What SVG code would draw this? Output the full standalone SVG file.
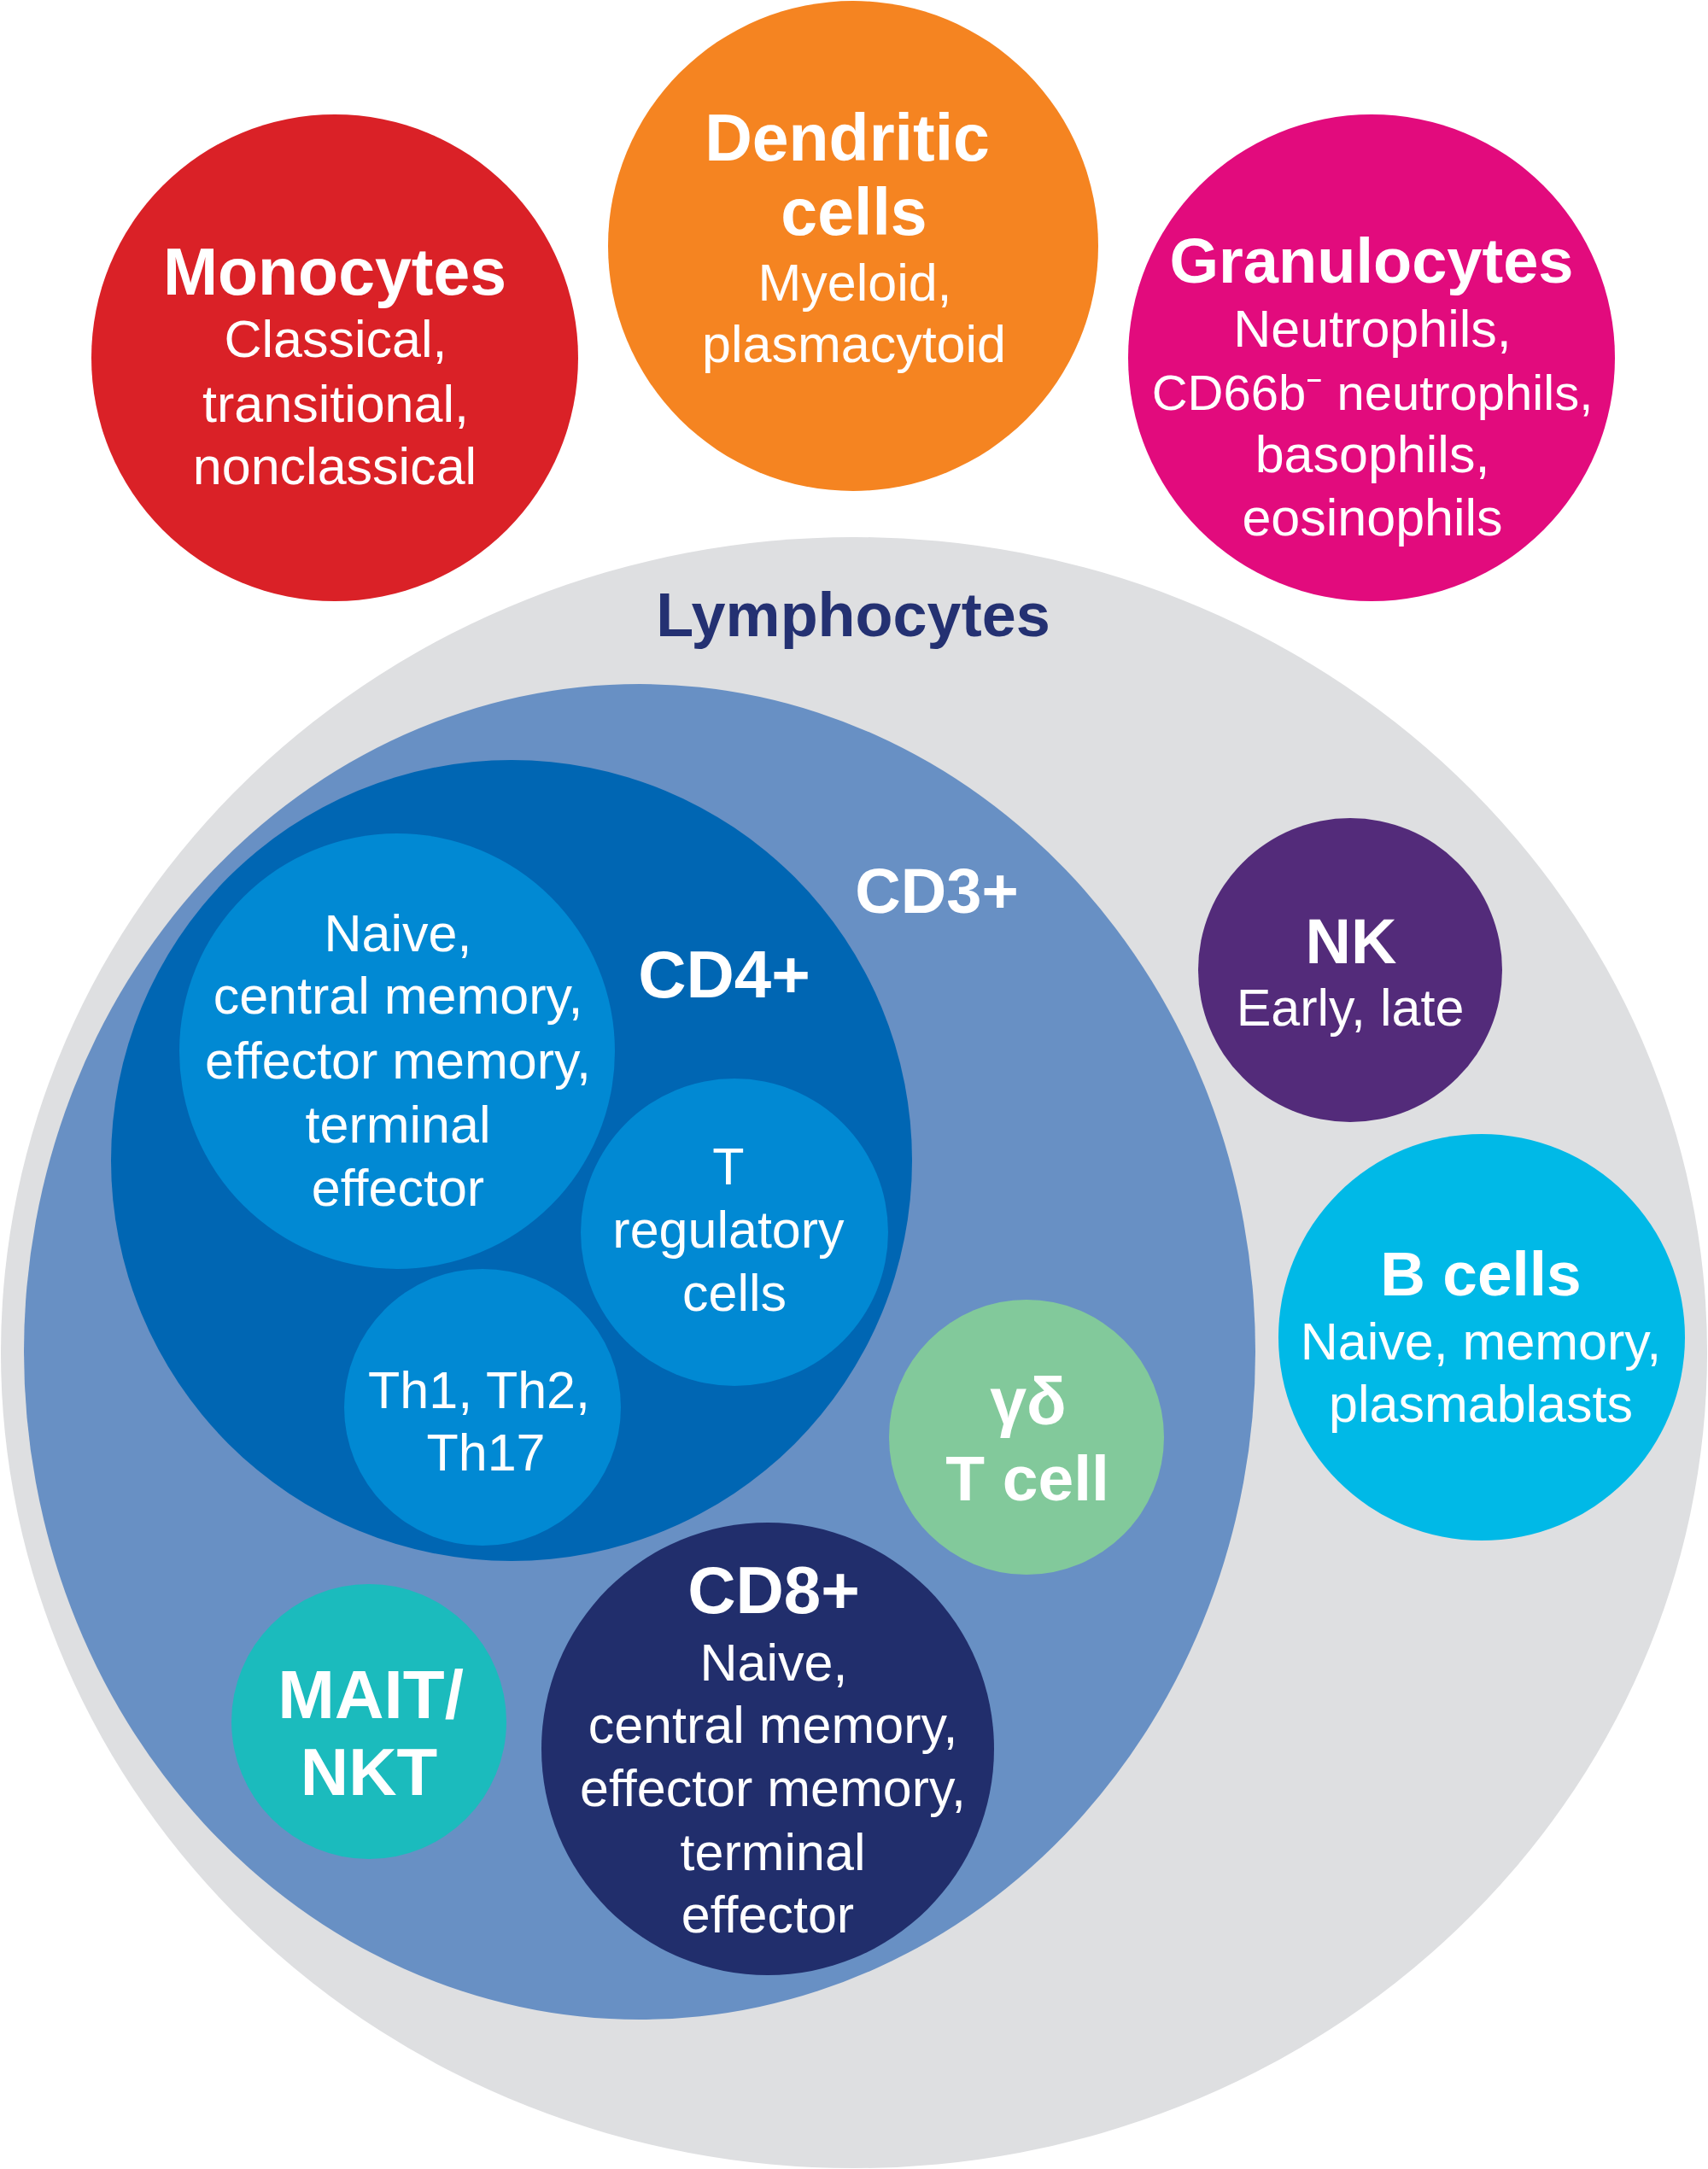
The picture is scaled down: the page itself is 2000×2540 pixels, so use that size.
<svg xmlns="http://www.w3.org/2000/svg" width="2000" height="2540" viewBox="0 0 2000 2540">
<style>
text{font-family:"Liberation Sans",Arial,sans-serif;fill:#ffffff;text-anchor:middle}
.t{font-weight:bold;font-size:77px}
.s{font-size:61px}
.lym{font-weight:bold;font-size:72px;fill:#243172}
</style>
<rect x="0" y="0" width="2000" height="2540" fill="#ffffff"/>
<g id="monocytes">
<circle cx="392" cy="419" r="285" fill="#DA2127"/>
<text class="t" x="392" y="345">Monocytes</text>
<text class="s" x="393" y="418">Classical,</text>
<text class="s" x="393" y="494">transitional,</text>
<text class="s" x="392" y="567">nonclassical</text>
</g>
<g id="dendritic">
<circle cx="999" cy="288" r="287" fill="#F58421"/>
<text class="t" x="992" y="188">Dendritic</text>
<text class="t" x="1000" y="275">cells</text>
<text class="s" x="1001" y="352">Myeloid,</text>
<text class="s" x="1000" y="424">plasmacytoid</text>
</g>
<g id="granulocytes">
<circle cx="1606" cy="419" r="285" fill="#E20B7D"/>
<text class="t" x="1606" y="331" style="font-size:74px">Granulocytes</text>
<text class="s" x="1607" y="406">Neutrophils,</text>
<text class="s" x="1607" y="480" style="font-size:58px">CD66b⁻ neutrophils,</text>
<text class="s" x="1607" y="553">basophils,</text>
<text class="s" x="1607" y="627">eosinophils</text>
</g>
<g id="lymphocytes">
<ellipse cx="1000" cy="1584" rx="999" ry="955" fill="#DEDFE1"/>
<text class="lym" x="999" y="745">Lymphocytes</text>
</g>
<g id="cd3">
<ellipse cx="749" cy="1583" rx="721" ry="782" fill="#6890C4"/>
<text class="t" x="1097" y="1069" style="font-size:74px">CD3+</text>
</g>
<g id="cd4">
<circle cx="599" cy="1359" r="469" fill="#0066B3"/>
<text class="t" x="848" y="1168" style="font-size:78px">CD4+</text>
</g>
<g id="cd4-subsets">
<circle cx="465" cy="1231" r="255" fill="#0189D3"/>
<text class="s" x="466" y="1114">Naive,</text>
<text class="s" x="466" y="1187">central memory,</text>
<text class="s" x="466" y="1263">effector memory,</text>
<text class="s" x="466" y="1338">terminal</text>
<text class="s" x="466" y="1412">effector</text>
</g>
<g id="treg">
<circle cx="860" cy="1443" r="180" fill="#0189D3"/>
<text class="s" x="853" y="1387">T</text>
<text class="s" x="853" y="1461">regulatory</text>
<text class="s" x="860" y="1535">cells</text>
</g>
<g id="th">
<circle cx="565" cy="1648" r="162" fill="#0189D3"/>
<text class="s" x="561" y="1649">Th1, Th2,</text>
<text class="s" x="569" y="1722">Th17</text>
</g>
<g id="nk">
<circle cx="1581" cy="1136" r="178" fill="#532B7A"/>
<text class="t" x="1582" y="1128" style="font-size:74px">NK</text>
<text class="s" x="1581" y="1201">Early, late</text>
</g>
<g id="bcells">
<circle cx="1735" cy="1566" r="238" fill="#00B9E7"/>
<text class="t" x="1734" y="1517" style="font-size:73px">B cells</text>
<text class="s" x="1734" y="1592">Naive, memory,</text>
<text class="s" x="1734" y="1665">plasmablasts</text>
</g>
<g id="gammadelta">
<circle cx="1202" cy="1683" r="161" fill="#82C99B"/>
<text class="t" x="1204" y="1668">γδ</text>
<text class="t" x="1203" y="1757" style="font-size:75px">T cell</text>
</g>
<g id="cd8">
<circle cx="899" cy="2048" r="265" fill="#212E6C"/>
<text class="t" x="906" y="1889" style="font-size:78px">CD8+</text>
<text class="s" x="906" y="1968">Naive,</text>
<text class="s" x="905" y="2041">central memory,</text>
<text class="s" x="905" y="2115">effector memory,</text>
<text class="s" x="905" y="2190">terminal</text>
<text class="s" x="899" y="2263">effector</text>
</g>
<g id="mait">
<circle cx="432" cy="2016" r="161" fill="#1BBBBD"/>
<text class="t" x="434" y="2012" style="font-size:80px">MAIT/</text>
<text class="t" x="432" y="2102" style="font-size:78px">NKT</text>
</g>
<g id="connectors"/>
</svg>
